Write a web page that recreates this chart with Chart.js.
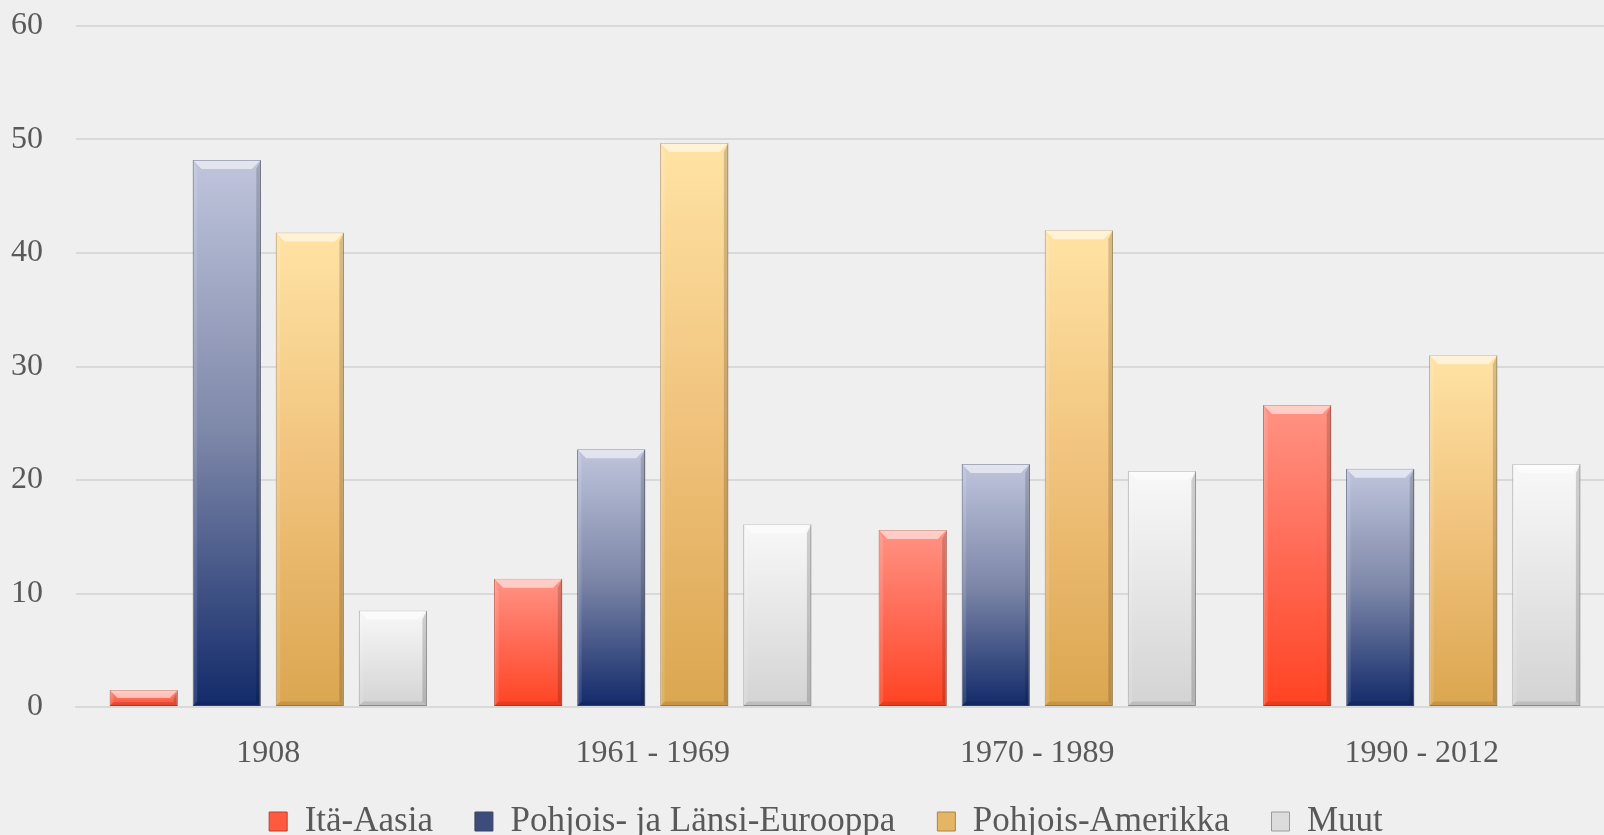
<!DOCTYPE html>
<html>
<head>
<meta charset="utf-8">
<script src="https://cdn.jsdelivr.net/npm/chart.js@4.4.1/dist/chart.umd.min.js"></script>
<style>
  html, body { margin: 0; padding: 0; background: #efefef; overflow: hidden; }
  #wrap { width: 1656px; height: 835px; position: relative; }
</style>
</head>
<body>
<div id="wrap"><canvas id="c"></canvas></div>
<script>
const categories = ['1908', '1961 - 1969', '1970 - 1989', '1990 - 2012'];
const seriesNames = ['Itä-Aasia', 'Pohjois- ja Länsi-Eurooppa', 'Pohjois-Amerikka', 'Muut'];
const itaAasia = [1.5, 11.3, 15.6, 26.6];
const eurooppa = [48.2, 22.7, 21.4, 21.0];
const amerikka = [41.8, 49.7, 42.0, 31.0];
const muut = [8.5, 16.1, 20.8, 21.4];
const yTicks = [0, 10, 20, 30, 40, 50, 60];

const gradStops = [
  ['#ff9384', '#ff6a55', '#ff4322'],
  ['#c0c5dc', '#7d87a8', '#122a6a'],
  ['#ffe3a4', '#f0c27c', '#dba650'],
  ['#f8f8f8', '#e6e6e6', '#d3d3d3']
];
const borderCols = ['#b8412e', '#3a4466', '#a88447', '#9a9a9a'];
const legendCols = ['#ff5a40', '#3e4c7c', '#e5b465', '#dcdcdc'];

function barGradient(si) {
  return function (ctx) {
    const chart = ctx.chart;
    if (!chart.chartArea || ctx.type !== 'data') return gradStops[si][1];
    const ys = chart.scales.y;
    const top = ys.getPixelForValue(ctx.raw);
    const bot = ys.getPixelForValue(0);
    if (!isFinite(top) || !isFinite(bot) || bot - top < 1) return gradStops[si][1];
    const g = chart.ctx.createLinearGradient(0, top, 0, bot);
    g.addColorStop(0, gradStops[si][0]);
    g.addColorStop(0.5, gradStops[si][1]);
    g.addColorStop(1, gradStops[si][2]);
    return g;
  };
}

const allData = [itaAasia, eurooppa, amerikka, muut];

const LEGEND_RESERVE = 63;
const layoutPlugin = {
  id: 'layoutTweak',
  beforeLayout(chart) {
    const lg = chart.legend;
    if (lg && !lg._patched) {
      const origFit = lg.fit;
      lg.fit = function () { origFit.call(this); this.height = LEGEND_RESERVE; };
      lg._patched = true;
    }
  },
  afterLayout(chart) {
    const lg = chart.legend;
    if (lg) {
      lg.left += 19; lg.right += 19;
      lg.top -= 10; lg.bottom += 20;
    }
  }
};

const bevelPlugin = {
  id: 'bevel',
  afterDatasetsDraw(chart) {
    const c = chart.ctx;
    chart.data.datasets.forEach((ds, i) => {
      const meta = chart.getDatasetMeta(i);
      meta.data.forEach(el => {
        const left = el.x - el.width / 2, right = el.x + el.width / 2;
        const top = Math.min(el.y, el.base), bottom = Math.max(el.y, el.base);
        const h = bottom - top;
        const b = Math.min(9, h / 2);
        c.save();
        c.fillStyle = 'rgba(255,255,255,0.55)';
        c.beginPath();
        c.moveTo(left, top); c.lineTo(right, top); c.lineTo(right - b, top + b); c.lineTo(left + b, top + b); c.closePath();
        c.fill();
        c.fillStyle = 'rgba(255,255,255,0.12)';
        c.beginPath();
        c.moveTo(left, top); c.lineTo(left + b * 0.5, top + b); c.lineTo(left + b * 0.5, bottom - b * 0.5); c.lineTo(left, bottom); c.closePath();
        c.fill();
        c.fillStyle = 'rgba(0,0,0,0.16)';
        c.beginPath();
        c.moveTo(right, top); c.lineTo(right - b * 0.5, top + b); c.lineTo(right - b * 0.5, bottom - b * 0.5); c.lineTo(right, bottom); c.closePath();
        c.fill();
        c.fillStyle = 'rgba(0,0,0,0.10)';
        c.beginPath();
        c.moveTo(left, bottom); c.lineTo(left + b * 0.5, bottom - b * 0.5); c.lineTo(right - b * 0.5, bottom - b * 0.5); c.lineTo(right, bottom); c.closePath();
        c.fill();
        c.restore();
      });
    });
  }
};

const fontFamily = '"Palatino Linotype", "Book Antiqua", Palatino, "Liberation Serif", "DejaVu Serif", serif';

new Chart(document.getElementById('c'), {
  type: 'bar',
  data: {
    labels: categories,
    datasets: seriesNames.map((name, i) => ({
      label: name,
      data: allData[i],
      backgroundColor: barGradient(i),
      borderColor: borderCols[i],
      borderWidth: 1,
      borderSkipped: false,
      categoryPercentage: 0.864,
      barPercentage: 0.82
    }))
  },
  options: {
    responsive: true,
    maintainAspectRatio: false,
    animation: false,
    layout: { padding: { left: 0, right: 42, top: 26, bottom: 0 } },
    scales: {
      x: {
        grid: { display: false },
        border: { display: true, color: '#d9d9d9', width: 2 },
        ticks: { color: '#595959', font: { family: fontFamily, size: 32 }, padding: 19 },
        afterFit(axis) { axis.height = 65; }
      },
      y: {
        min: 0, max: 60,
        afterBuildTicks(axis) { axis.ticks = yTicks.map(v => ({ value: v })); },
        grid: { color: '#d9d9d9', lineWidth: 2, drawTicks: false },
        border: { display: false },
        ticks: { color: '#595959', font: { family: fontFamily, size: 32 }, padding: 33 },
        afterFit(axis) { axis.width = 76; axis.paddingTop = 0; axis.paddingBottom = 0; }
      }
    },
    plugins: {
      legend: {
        position: 'bottom',
        labels: {
          color: '#595959',
          font: { family: fontFamily, size: 35 },
          boxWidth: 18,
          boxHeight: 19,
          padding: 42,
          generateLabels(chart) {
            return chart.data.datasets.map((ds, i) => ({
              text: ds.label,
              fillStyle: legendCols[i],
              strokeStyle: borderCols[i],
              lineWidth: 1,
              datasetIndex: i,
              fontColor: '#595959'
            }));
          }
        }
      },
      tooltip: { enabled: false }
    }
  },
  plugins: [layoutPlugin, bevelPlugin]
});
</script>
</body>
</html>
